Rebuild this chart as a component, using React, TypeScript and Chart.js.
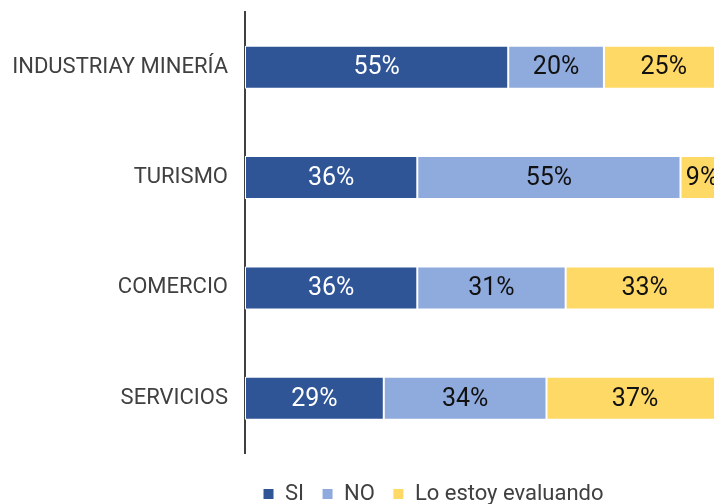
import React, { useEffect, useRef } from "react";
import { Chart, registerables } from "chart.js";

Chart.register(...registerables);

const categories = ["INDUSTRIAY MINERÍA", "TURISMO", "COMERCIO", "SERVICIOS"];
const seriesNames = ["SI", "NO", "Lo estoy evaluando"];
const siValues = [55, 36, 36, 29];
const noValues = [20, 55, 31, 34];
const evalValues = [25, 9, 33, 37];
const seriesColors = ["#2F5597", "#8FAADC", "#FFD966"];
const labelColors = ["#ffffff", "#111111", "#111111"];

const FONT = "Roboto, 'Noto Sans', sans-serif";

const dataLabelPlugin = {
  id: "dataLabels",
  afterDatasetsDraw(chart: any) {
    const ctx = chart.ctx;
    ctx.save();
    ctx.font = `25px ${FONT}`;
    ctx.textAlign = "center";
    ctx.textBaseline = "middle";
    chart.data.datasets.forEach((ds: any, i: number) => {
      const meta = chart.getDatasetMeta(i);
      meta.data.forEach((el: any, j: number) => {
        const v = ds.data[j];
        const cx = (el.x + el.base) / 2;
        ctx.fillStyle = labelColors[i];
        ctx.fillText(`${v}%`, cx, el.y + 1);
      });
    });
    ctx.restore();
  },
};

export default function App() {
  const ref = useRef<HTMLCanvasElement>(null);
  useEffect(() => {
    document.body.style.margin = "0";
    const values = [siValues, noValues, evalValues];
    const chart = new Chart(ref.current as HTMLCanvasElement, {
      type: "bar",
      data: {
        labels: categories,
        datasets: seriesNames.map((name, i) => ({
          label: name,
          data: values[i],
          backgroundColor: seriesColors[i],
          borderColor: "#ffffff",
          borderWidth: 1,
          borderSkipped: false,
          categoryPercentage: 1,
          barPercentage: 0.39,
        })),
      },
      options: {
        indexAxis: "y",
        responsive: false,
        animation: false,
        layout: { padding: { top: 12, right: 0, bottom: -11, left: 0 } },
        scales: {
          x: {
            stacked: true,
            min: 0,
            max: 98,
            display: false,
          },
          y: {
            stacked: true,
            grid: { display: false, drawTicks: false },
            border: { display: true, color: "#404040", width: 2 },
            ticks: {
              color: "#404040",
              font: { family: FONT, size: 22 },
              padding: 17,
            },
            afterFit(scale: any) {
              scale.width = 245;
              scale.paddingTop = 0;
              scale.paddingBottom = 0;
            },
          },
        },
        plugins: {
          legend: {
            position: "bottom",
            align: "start",
            fullSize: false,
            title: {
              display: true,
              text: " ",
              font: { size: 1, lineHeight: 1 },
              padding: { top: 10.5, bottom: 0 },
            },
            labels: {
              boxWidth: 11,
              boxHeight: 11,
              padding: 18,
              color: "#404040",
              font: { family: FONT, size: 22 },
            },
          },
          tooltip: { enabled: false },
        },
      },
      plugins: [dataLabelPlugin],
    });
    return () => chart.destroy();
  }, []);
  return <canvas ref={ref} width={714} height={504} style={{ display: "block" }} />;
}
